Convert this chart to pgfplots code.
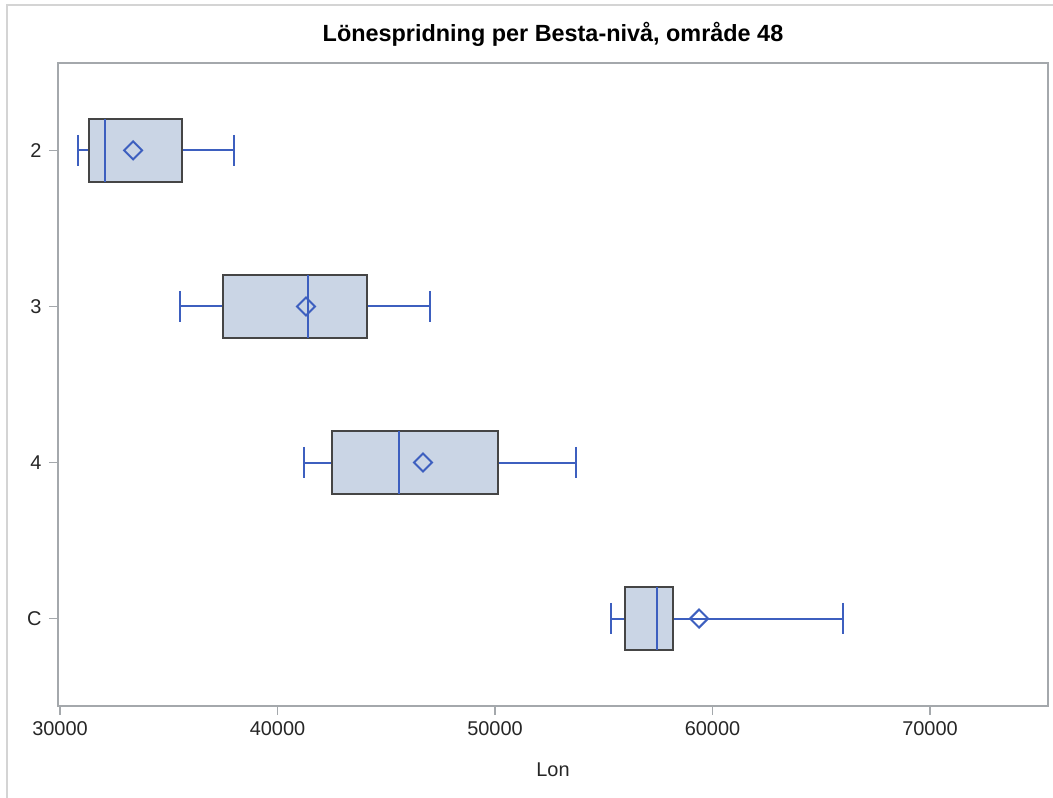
\documentclass[border=0pt]{standalone}
\usepackage{pgfplots}
\pgfplotsset{compat=1.18}
\usepgfplotslibrary{statistics}
\usepackage{fontspec}
\setmainfont{Liberation Sans}
\definecolor{boxfill}{HTML}{CAD5E5}
\definecolor{sasblue}{HTML}{3D5FBF}
\definecolor{boxedge}{HTML}{454545}
\definecolor{framegray}{HTML}{A4A8AC}
\definecolor{outerframe}{HTML}{D4D4D4}
\pgfdeclareplotmark{sasdiamond}{%
  \pgfsetlinewidth{2bp}%
  \pgfpathmoveto{\pgfqpoint{0pt}{\pgfplotmarksize}}%
  \pgfpathlineto{\pgfqpoint{\pgfplotmarksize}{0pt}}%
  \pgfpathlineto{\pgfqpoint{0pt}{-\pgfplotmarksize}}%
  \pgfpathlineto{\pgfqpoint{-\pgfplotmarksize}{0pt}}%
  \pgfpathclose\pgfusepathqstroke}
\begin{document}
\begin{tikzpicture}[x=1bp,y=1bp]
\useasboundingbox (-58,-92) rectangle (995,706);
\draw[outerframe, line width=1.5bp] (-51,-92) -- (-51,701) -- (995,701);
\begin{axis}[
  at={(0,0)}, anchor=south west,
  scale only axis, width=990bp, height=643bp,
  xmin=29908, xmax=75425,
  ymin=-0.56, ymax=3.56, y dir=reverse,
  ytick={0,1,2,3}, yticklabels={2,3,4,C},
  xtick={30000,40000,50000,60000,70000},
  scaled x ticks=false,
  /pgf/number format/assume math mode=true,
  /pgf/number format/set thousands separator={},
  tick align=outside, major tick length=9bp,
  tick style={framegray, line width=1.2bp},
  axis line style={framegray, line width=1.5bp},
  xtick pos=left, ytick pos=left,
  ticklabel style={font=\fontsize{20}{24}\selectfont, text=black!85},
  xticklabel style={yshift=-3bp},
  yticklabel style={xshift=-4bp},
  xlabel={Lon},
  xlabel style={font=\fontsize{20}{24}\selectfont, text=black!85, at={(axis description cs:0.5,0)}, anchor=base, yshift=-70bp},
  title={Lönespridning per Besta-nivå, område 48},
  title style={font=\bfseries\fontsize{23.5}{28}\selectfont, at={(axis description cs:0.5,1)}, anchor=base, yshift=16bp},
  boxplot/draw direction=x,
  boxplot/box extend=0.4,
  boxplot/whisker extend=0.2,
  boxplot/every box/.style={draw=boxedge, fill=boxfill, line width=2.2bp},
  boxplot/every whisker/.style={draw=sasblue, line width=2bp},
  boxplot/every median/.style={draw=sasblue, line width=2bp},
  boxplot/every average/.style={/tikz/mark=sasdiamond, /tikz/mark size=9bp, draw=sasblue, line width=2bp, /tikz/mark options={draw=sasblue, line width=2bp}},
]
\addplot[sasblue, boxplot prepared={draw position=0,
  lower whisker=30830, lower quartile=31330, median=32070,
  upper quartile=35610, upper whisker=38000, average=33360}] coordinates {};
\addplot[sasblue, boxplot prepared={draw position=1,
  lower whisker=35520, lower quartile=37490, median=41400,
  upper quartile=44110, upper whisker=47010, average=41310}] coordinates {};
\addplot[sasblue, boxplot prepared={draw position=2,
  lower whisker=41220, lower quartile=42510, median=45590,
  upper quartile=50140, upper whisker=53720, average=46690}] coordinates {};
\addplot[sasblue, boxplot prepared={draw position=3,
  lower whisker=55330, lower quartile=55980, median=57450,
  upper quartile=58180, upper whisker=66000, average=59380}] coordinates {};
\end{axis}
\end{tikzpicture}
\end{document}
